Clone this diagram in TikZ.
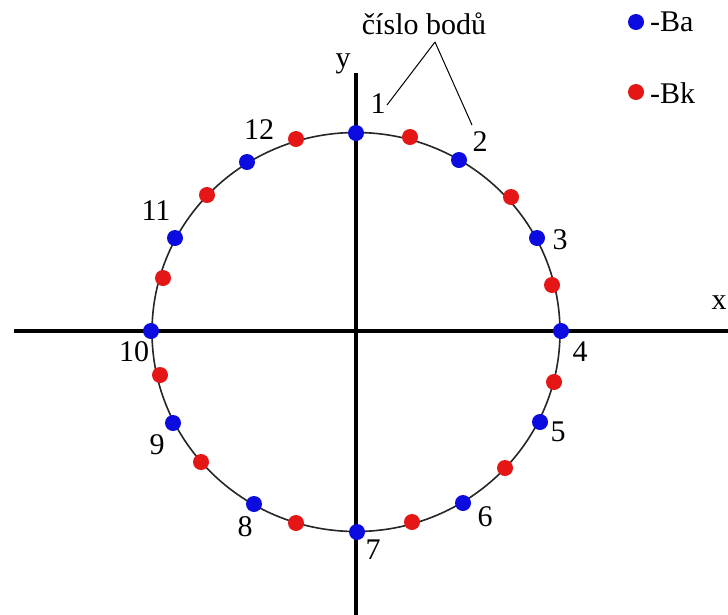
\documentclass[tikz,border=0pt]{standalone}
\usepackage{fontspec}
\setmainfont{Liberation Serif}
\definecolor{ptblue}{RGB}{12,12,225}
\definecolor{ptred}{RGB}{228,22,22}
\begin{document}
\begin{tikzpicture}[x=1pt,y=-1pt,
  axis/.style={line width=3.6pt,black},
  circ/.style={line width=1.6pt,black!85},
  bdot/.style={circle,fill=ptblue,inner sep=0pt,minimum size=16pt},
  rdot/.style={circle,fill=ptred,inner sep=0pt,minimum size=16pt},
  lab/.style={font=\fontsize{30}{30}\selectfont,inner sep=0pt},
  leader/.style={line width=1pt,black}]
\useasboundingbox[fill=white] (0,0) rectangle (728,614);
% axes
\coordinate (xl) at (14,331);
\coordinate (xr) at (740,331);
\coordinate (yt) at (356,73);
\coordinate (yb) at (356,620);
\draw[axis] (xl) -- (xr);
\draw[axis] (yt) -- (yb);
% circle
\draw[circ] (356,332) ellipse [x radius=204, y radius=199.5];
% red points
\foreach \i/\p in {1/{(410,137)},2/{(511,197)},3/{(552,285)},4/{(554,382)},5/{(505,468)},6/{(412,522)},7/{(296,523)},8/{(201,462)},9/{(160,375)},10/{(163,278)},11/{(207,195)},12/{(296,139)}}
  \node[rdot] (r\i) at \p {};
% blue points
\foreach \i/\p in {1/{(356,133)},2/{(459,160)},3/{(537,238)},4/{(561,331)},5/{(540,422)},6/{(463,503)},7/{(357,532)},8/{(254,504)},9/{(173,423)},10/{(151,331)},11/{(175,238)},12/{(247,162)}}
  \node[bdot] (b\i) at \p {};
% labels
\node[lab] (l1) at (378,104) {1};
\node[lab] (l2) at (480,142) {2};
\node[lab] (l3) at (560,240) {3};
\node[lab] (l4) at (580,352) {4};
\node[lab] (l5) at (558,432) {5};
\node[lab] (l6) at (485,517) {6};
\node[lab] (l7) at (373,550) {7};
\node[lab] (l8) at (245,527) {8};
\node[lab] (l9) at (157,445) {9};
\node[lab] (l10) at (134,352) {10};
\node[lab] (l11) at (156,211) {11};
\node[lab] (l12) at (259,130) {12};
\node[lab] (ly) at (343,64) {y};
\node[lab] (lx) at (719,303) {x};
\node[lab] (title) at (424,24) {číslo bodů};
% leaders
\coordinate (apex) at (435,42);
\coordinate (e1) at (387,105);
\coordinate (e2) at (472,125);
\draw[leader] (apex) -- (e1);
\draw[leader] (apex) -- (e2);
% legend
\node[bdot] (lgb) at (636,22) {};
\node[lab,anchor=west] (lgbt) at (650,22) {-Ba};
\node[rdot] (lgr) at (636,92) {};
\node[lab,anchor=west] (lgrt) at (650,93) {-Bk};
\end{tikzpicture}
\end{document}
